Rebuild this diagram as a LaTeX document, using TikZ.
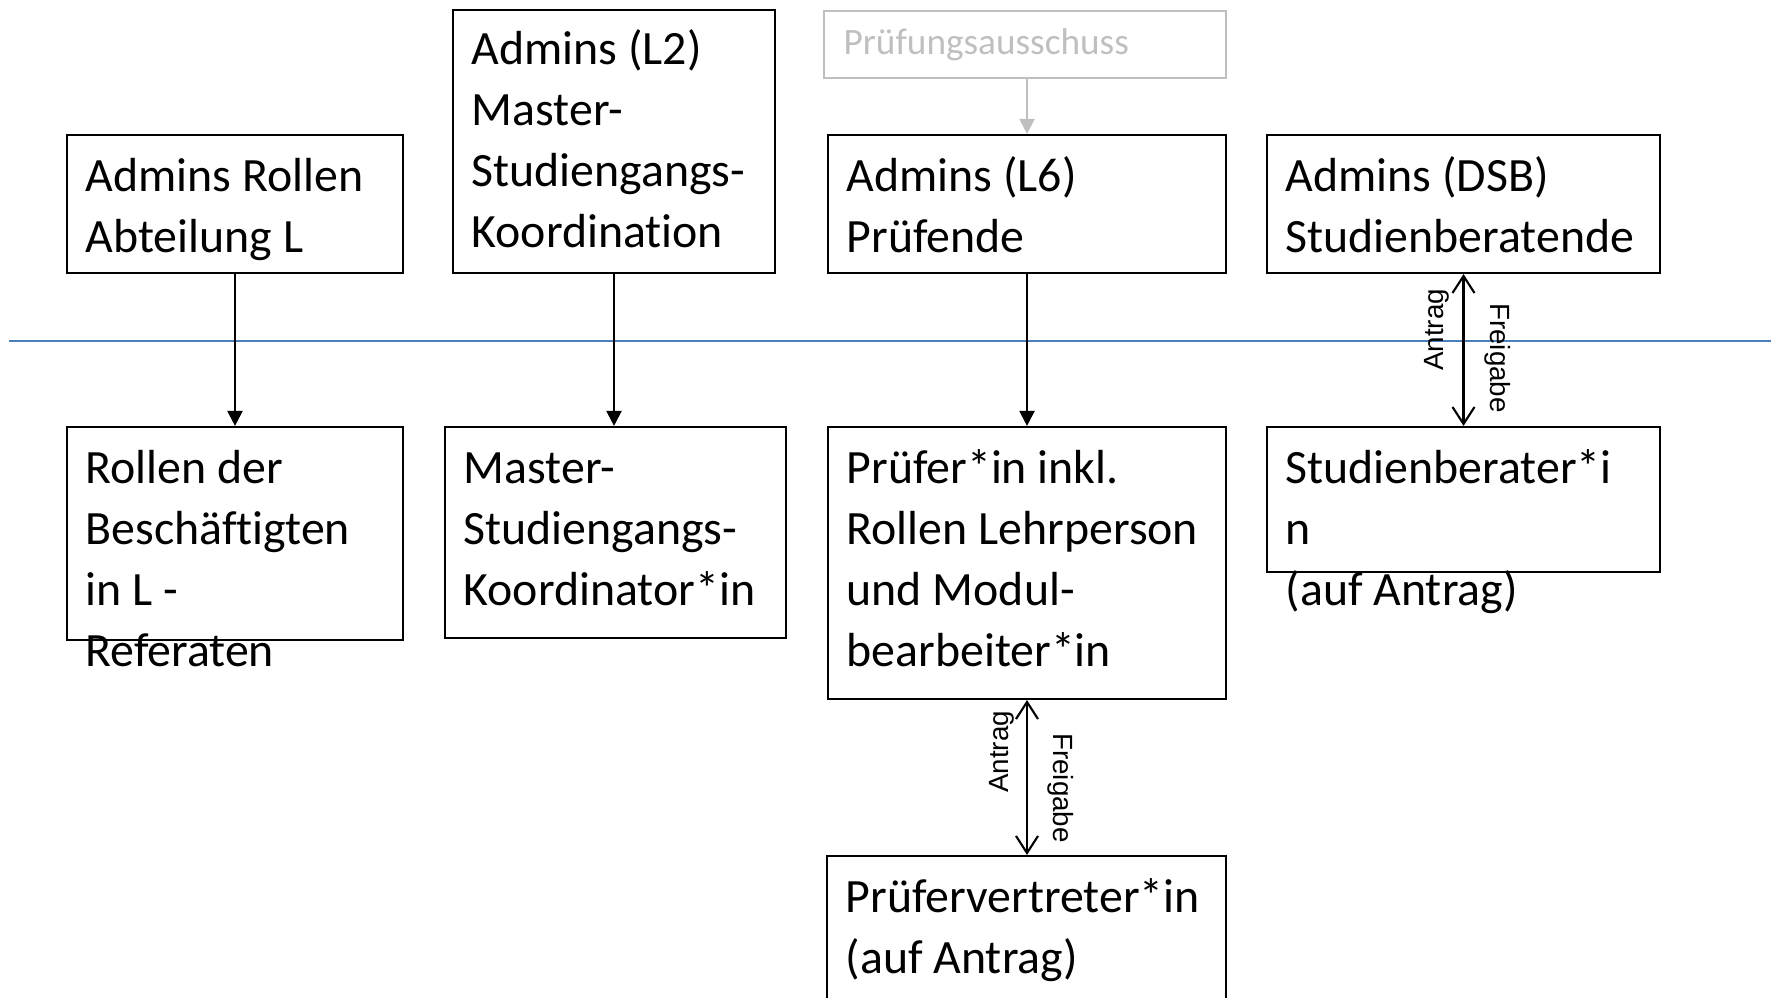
\documentclass[tikz,border=0pt]{standalone}
\usepackage{fontspec}
\setmainfont{Carlito}[Ligatures=NoCommon]
\newfontfamily\arialfont{Liberation Sans}
\usepackage{xcolor}
\usetikzlibrary{arrows.meta}
\usetikzlibrary{positioning}
\usetikzlibrary{fit}

\definecolor{sepblue}{RGB}{74,126,187}
\definecolor{palegray}{RGB}{191,191,191}
\newcommand{\rolefont}{\fontsize{13.6}{17.36}\selectfont}
\newcommand{\boardfont}{\fontsize{10.6}{12.5}\selectfont}
\newcommand{\lblfont}{\arialfont\fontsize{7.9}{9.5}\selectfont}

\begin{document}
\begin{tikzpicture}[x=0.01cm, y=-0.01cm,
		role/.style={draw, line width=0.6pt, inner sep=0pt},
		txt/.style={anchor=north west, inner sep=0pt, align=left, font=\rolefont},
		lbl/.style={inner sep=0pt, anchor=base, font=\lblfont},
		down/.style={line width=0.6pt, -{Triangle[width=0.15cm, length=0.15cm]}},
		both/.style={line width=0.6pt, {Straight Barb[width=0.22cm, length=0.17cm]}-{Straight Barb[width=0.22cm, length=0.17cm]}}]
				\useasboundingbox (0,0) rectangle (1776,998);
				\clip (0,0) rectangle (1776,998);
				
				% Boxes, upper row
				\node[role, fit={(67,135) (403,273)}] (adminL) {};
				\node[role, fit={(453,10) (775,273)}] (adminL2) {};
				\node[role, draw=palegray, fit={(824,11) (1226,78)}] (board) {};
				\node[role, fit={(828,135) (1226,273)}] (adminL6) {};
				\node[role, fit={(1267,135) (1660,273)}] (adminDSB) {};
				
				% Boxes, lower row
				\node[role, fit={(67,427) (403,640)}] (staff) {};
				\node[role, fit={(445,427) (786,638)}] (coord) {};
				\node[role, fit={(828,427) (1226,699)}] (examiner) {};
				\node[role, fit={(1267,427) (1660,572)}] (advisor) {};
				\node[role, fit={(827,856) (1226,1010)}] (deputy) {};
				
				% Separator
				\draw[sepblue, line width=0.5pt] (9,341) -- (1771,341);
				
				% Texts
				\node[txt] (adminLtext) at (85,148) {\strut Admins Rollen\\Abteilung L};
				\node[txt] (adminLtwotext) at (471,21) {\strut Admins (L2)\\Master-\\Studiengangs-\\Koordination};
				\node[anchor=base west, inner sep=0pt, font=\boardfont, text=palegray] (boardtext) at (843,55) {Prüfungsausschuss};
				\node[txt] (adminLsixtext) at (846,148) {\strut Admins (L6)\\Prüfende};
				\node[txt] (adminDSBtext) at (1285,148) {\strut Admins (DSB)\\Studienberatende};
				\node[txt] (stafftext) at (85,440) {\strut Rollen der\\Beschäftigten\\in L -\\Referaten};
				\node[txt] (coordtext) at (463,440) {\strut Master-\\Studiengangs-\\Koordinator*in};
				\node[txt] (examinertext) at (846,440) {\strut Prüfer*in inkl.\\Rollen Lehrperson\\und Modul-\\bearbeiter*in};
				\node[txt] (advisortext) at (1285,440) {\strut Studienberater*i\\n\\(auf Antrag)};
				\node[txt] (deputytext) at (845,869) {\strut Prüfervertreter*in\\(auf Antrag)};
				
				% Arrows
				\draw[down] (adminL) -- (staff);
				\draw[down] (adminL2) -- (adminL2 |- coord.north);
				\draw[down, palegray] (adminL6 |- board.south) -- (adminL6);
				\draw[down] (adminL6) -- (examiner);
				\draw[both] (adminDSB) -- (advisor);
				\draw[both] (examiner) -- (examiner |- deputy.north);
				
				% Labels
				\node[lbl, rotate=90] (applyDSB) at (1443,330) {Antrag};
				\node[lbl, rotate=-90] (releaseDSB) at (1490,358) {Freigabe};
				\node[lbl, rotate=90] (applyPV) at (1008,752) {Antrag};
				\node[lbl, rotate=-90] (releasePV) at (1053,788) {Freigabe};
			\end{tikzpicture}
\end{document}
